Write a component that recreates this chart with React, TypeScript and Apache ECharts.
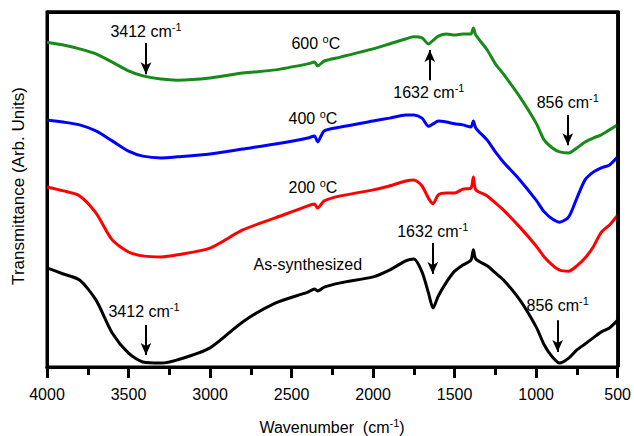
// FTIR spectra: as-synthesized and calcined at 200, 400, 600 °C
import React, { useEffect, useRef } from "react";
import * as echarts from "echarts";

const W = 634;
const H = 436;
const PL = 47;
const PR = 618;
const PT = 12;
const PB = 367;

const wavenumbers = [4000, 3900, 3800, 3700, 3600, 3500, 3412, 3300, 3200, 3000, 2800, 2600, 2400, 2360, 2340, 2300, 2200, 2000, 1900, 1800, 1750, 1700, 1660, 1632, 1600, 1550, 1500, 1450, 1400, 1385, 1370, 1300, 1250, 1200, 1100, 1000, 950, 900, 856, 800, 750, 700, 650, 600, 550, 500];

const t600 = [91.5, 90.7, 89.6, 88.2, 85.9, 83.4, 82.0, 81.1, 80.8, 81.4, 82.8, 83.7, 85.4, 85.9, 84.8, 86.2, 87.3, 89.6, 91.0, 92.4, 93.0, 92.7, 91.0, 92.0, 93.2, 93.8, 93.5, 93.8, 93.8, 95.5, 93.5, 89.3, 85.4, 82.5, 76.1, 68.7, 63.9, 61.7, 60.6, 60.3, 61.7, 63.4, 64.5, 65.4, 66.8, 68.2];
const t400 = [69.6, 69.0, 68.2, 66.5, 63.7, 60.8, 59.4, 58.9, 59.2, 60.0, 61.4, 62.8, 64.5, 65.1, 63.4, 66.5, 67.6, 69.3, 70.1, 71.0, 71.0, 70.1, 67.8, 68.5, 69.3, 69.0, 68.5, 68.2, 67.6, 69.3, 67.3, 63.9, 60.6, 57.7, 52.7, 47.0, 43.7, 41.7, 40.8, 42.3, 47.6, 52.7, 54.9, 56.1, 56.9, 59.2];
const t200 = [50.7, 49.6, 48.2, 43.4, 35.8, 32.4, 31.3, 31.0, 31.6, 33.5, 38.6, 42.0, 45.4, 45.9, 44.8, 46.8, 48.2, 49.9, 51.0, 52.4, 52.7, 51.0, 47.5, 46.0, 48.5, 49.0, 49.0, 50.1, 50.4, 53.5, 49.9, 48.2, 46.2, 44.2, 39.4, 34.1, 31.0, 28.7, 27.3, 27.0, 28.5, 30.7, 33.8, 38.0, 40.0, 42.8];
const tAs = [27.9, 26.2, 24.5, 18.9, 9.6, 3.9, 1.4, 1.1, 2.0, 5.4, 12.7, 18.0, 21.1, 22.0, 21.4, 22.5, 23.7, 25.4, 27.3, 29.9, 30.4, 26.8, 20.8, 16.6, 20.0, 23.9, 27.0, 28.7, 30.1, 33.0, 30.4, 28.5, 26.5, 24.5, 18.9, 11.3, 6.2, 2.8, 1.1, 2.5, 4.8, 6.5, 8.2, 9.9, 11.0, 13.2];

const xTicks = [500, 1000, 1500, 2000, 2500, 3000, 3500, 4000];

// annotation labels: [text, wavenumber, transmittance]
const peakLabels: [string, number, number][] = [
  ["3412", 3393, 94.4],
  ["1632", 1658, 77.2],
  ["856", 806, 74.6],
  ["3412", 3405, 15.5],
  ["1632", 1634, 38.3],
  ["856", 868, 17.2],
];
const tempLabels: [string, number, number][] = [
  ["600", 2351, 91.0],
  ["400", 2369, 70.1],
  ["200", 2369, 50.7],
];
const asLabel: [string, number, number] = ["As-synthesized", 2400, 29.0];

// arrows: [wavenumber, fromT, toT]
const arrows: [number, number, number][] = [
  [3393, 91.3, 82.5],
  [1652, 80.8, 89.3],
  [806, 71.0, 62.5],
  [3393, 11.8, 3.4],
  [1634, 34.9, 26.2],
  [868, 13.2, 4.2],
];

const FONT = "Liberation Sans, Arial, sans-serif";
const rich = {
  n: { fontSize: 16, fontFamily: FONT, color: "#000", lineHeight: 20 },
  s: { fontSize: 11, fontFamily: FONT, color: "#000", lineHeight: 10, verticalAlign: "top" },
};

export default function App() {
  const ref = useRef<HTMLDivElement>(null);
  useEffect(() => {
    if (!ref.current) return;
    const chart = echarts.init(ref.current, null, { renderer: "svg" });
    const mk = (arr: number[]) => wavenumbers.map((w, i) => [w, arr[i]]);
    const lineSeries = (name: string, arr: number[], color: string) => ({
      name,
      type: "line",
      data: mk(arr),
      showSymbol: false,
      symbol: "none",
      smooth: 0.25,
      lineStyle: { color, width: 3 },
      z: 3,
    });
    const markPoints = [
      ...peakLabels.map(([t, w, v]) => ({
        coord: [w, v],
        label: { formatter: `{n|${t} cm}{s|-1}` },
      })),
      ...tempLabels.map(([t, w, v]) => ({
        coord: [w, v],
        label: { formatter: `{n|${t} }{s|o}{n|C}` },
      })),
      { coord: [asLabel[1], asLabel[2]], label: { formatter: `{n|${asLabel[0]}}` } },
    ];
    const option: any = {
      animation: false,
      backgroundColor: "#ffffff",
      grid: {
        left: PL,
        right: W - PR,
        top: PT,
        bottom: H - PB,
        show: true,
        borderColor: "#000000",
        borderWidth: 3,
        backgroundColor: "rgba(0,0,0,0)",
      },
      xAxis: {
        type: "value",
        inverse: true,
        min: 500,
        max: 4000,
        interval: 500,
        axisLine: { show: true, onZero: false, lineStyle: { color: "#000", width: 3 } },
        axisTick: { show: true, inside: false, length: 11, lineStyle: { color: "#000", width: 3 } },
        minorTick: { show: true, splitNumber: 2, length: 8, lineStyle: { color: "#000", width: 3 } },
        splitLine: { show: false },
        axisLabel: {
          fontSize: 16,
          fontFamily: FONT,
          color: "#000",
          margin: 19,
          formatter: (v: number) => (xTicks.includes(v) ? String(v) : ""),
        },
      },
      yAxis: {
        type: "value",
        min: 0,
        max: 100,
        axisLine: { show: true, onZero: false, lineStyle: { color: "#000", width: 3 } },
        axisTick: { show: false },
        axisLabel: { show: false },
        splitLine: { show: false },
      },
      graphic: {
        elements: [
          {
            type: "polyline",
            z: 100,
            silent: true,
            shape: { points: [[PL, PT], [PR, PT], [PR, PB]] },
            style: { stroke: "#000000", lineWidth: 3, fill: null },
          },
          {
            type: "text",
            x: 18,
            y: 186,
            rotation: Math.PI / 2,
            style: {
              text: "Transmittance (Arb. Units)",
              font: `17px ${FONT}`,
              fill: "#000",
              align: "center",
              verticalAlign: "middle",
            },
          },
          {
            type: "text",
            x: 332,
            y: 427,
            style: {
              text: "{n|Wavenumber  (cm}{s|-1}{n|)}",
              rich,
              align: "center",
              verticalAlign: "middle",
            },
          },
        ],
      },
      series: [
        lineSeries("As-synthesized", tAs, "#000000"),
        lineSeries("200 °C", t200, "#ff0000"),
        lineSeries("400 °C", t400, "#0000ff"),
        {
          ...lineSeries("600 °C", t600, "#178a1a"),
          markLine: {
            silent: true,
            animation: false,
            symbol: ["none", "arrow"],
            symbolSize: [8, 12],
            label: { show: false },
            lineStyle: { color: "#000", width: 2, type: "solid" },
            data: arrows.map(([w, a, b]) => [
              { coord: [w, a] },
              { coord: [w, b] },
            ]),
          },
          markPoint: {
            silent: true,
            animation: false,
            symbol: "circle",
            symbolSize: 0.1,
            itemStyle: { color: "rgba(0,0,0,0)" },
            label: { show: true, position: "inside", rich },
            data: markPoints,
          },
        },
      ],
    };
    chart.setOption(option);
    return () => chart.dispose();
  }, []);
  return (
    <div style={{ position: "fixed", left: 0, top: 0, width: W, height: H, background: "#fff" }}>
      <div ref={ref} style={{ position: "absolute", left: 0, top: 0, width: W, height: H }} />
      <div
        style={{
          position: "absolute",
          boxSizing: "border-box",
          left: PL,
          top: PT - 1.5,
          width: PR + 1.5 - PL,
          height: PB - PT + 1.5,
          borderTop: "3px solid #000",
          borderRight: "3px solid #000",
          pointerEvents: "none",
        }}
      />
    </div>
  );
}
